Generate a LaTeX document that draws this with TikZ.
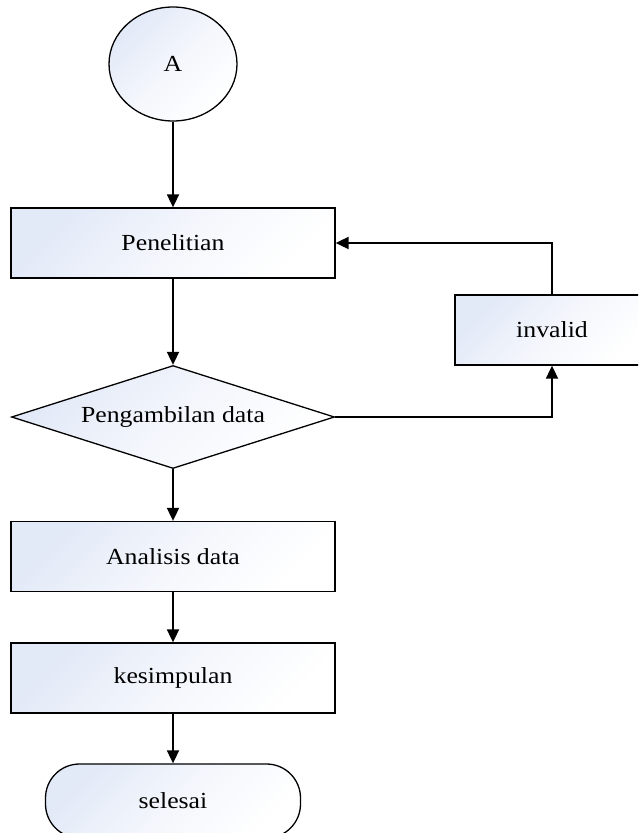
\documentclass[tikz,border=0pt]{standalone}
\usepackage{fontspec}
\setmainfont[FakeStretch=1.12]{Liberation Serif}
\usepackage{tikz}
\usetikzlibrary{shapes.geometric,arrows.meta,positioning}
\definecolor{fillblue}{RGB}{226,233,247}

\begin{document}
\begin{tikzpicture}[
            x=1pt,y=-1pt,
            every node/.style={on grid,font=\fontsize{23}{27}\selectfont},
            shade box/.style={draw,line width=1.3pt,top color=fillblue,bottom color=white,middle color=white!60!fillblue,shading angle=45},
            process/.style={shade box,rectangle,minimum width=324pt,minimum height=70pt,inner sep=0pt},
            decision/.style={shade box,diamond,minimum width=323pt,minimum height=103pt,inner sep=0pt,aspect=3},
            connector/.style={shade box,ellipse,minimum width=128pt,minimum height=114pt,inner sep=0pt},
            terminal/.style={shade box,rectangle,rounded corners=34pt,minimum width=255pt,minimum height=74pt,inner sep=0pt},
            flow/.style={-{Triangle[width=12pt,length=13pt]},line width=1.8pt},
            node distance=120pt
        ]
        \useasboundingbox (0,0) rectangle (638,833);
        \clip (0,0) rectangle (638,833);

        % Draw main column %
        \node[connector] (start) at (173,64) {A};
        \node[process,below = 179pt of start] (pen) {Penelitian};
        \node[decision,below = 174pt of pen] (dia) {Pengambilan data};
        \node[process,below = 139.5pt of dia] (ana) {Analisis data};
        \node[process,below = 121.5pt of ana] (kes) {kesimpulan};
        \node[terminal,below = 123pt of kes] (sel) {selesai};

        % Draw loop box %
        \node[process,minimum width=194pt,below right = 87pt and 379pt of pen] (inv) {invalid};

        % Draw arrows %
        \draw[flow] (start) -- (pen);
        \draw[flow] (pen) -- (dia);
        \draw[flow] (dia) -- (ana);
        \draw[flow] (ana) -- (kes);
        \draw[flow] (kes) -- (sel);
        \draw[flow] (dia.east) -| (inv.south);
        \draw[flow] (inv.north) |- (pen.east);
        \end{tikzpicture}
\end{document}
